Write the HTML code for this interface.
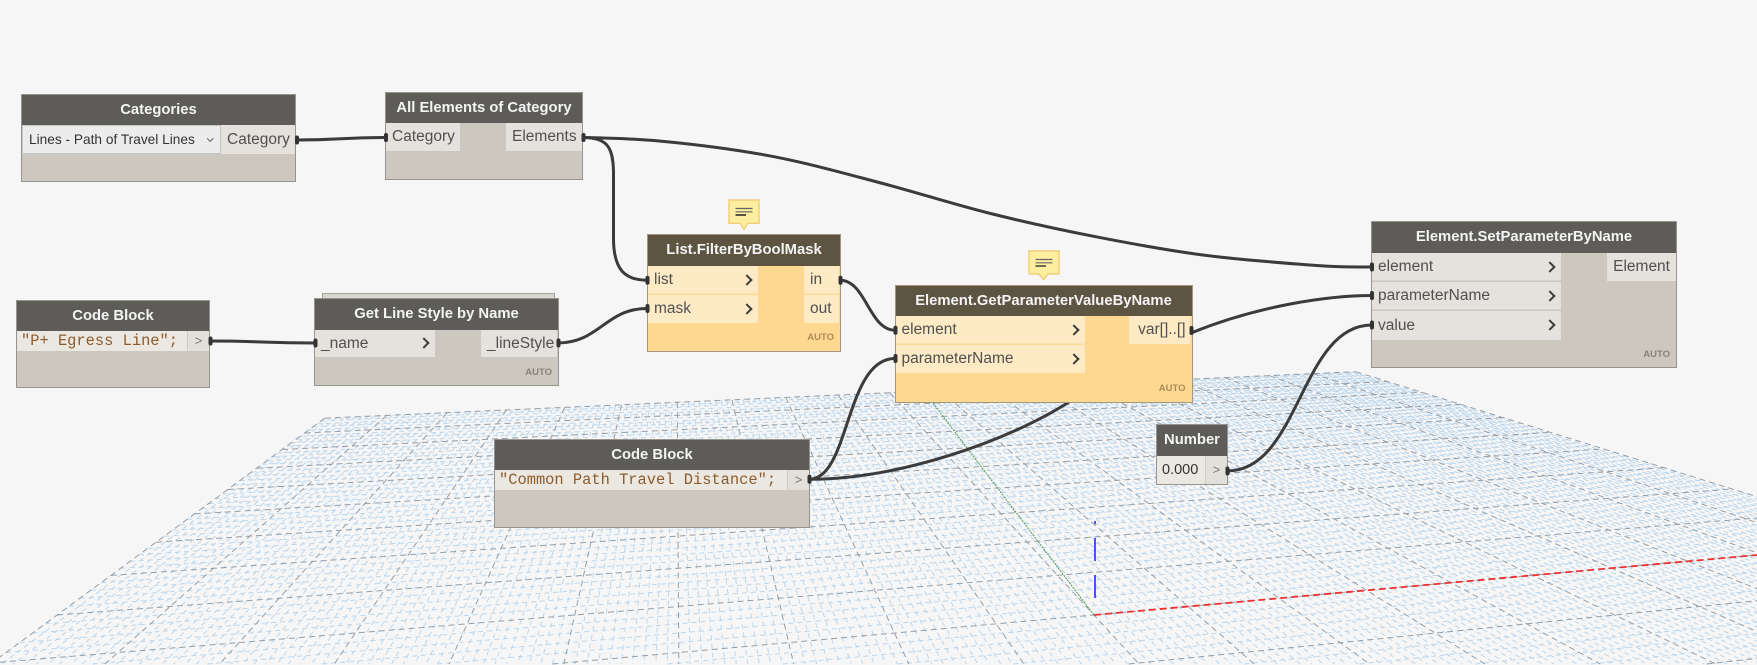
<!DOCTYPE html>
<html><head><meta charset="utf-8">
<style>
html{margin:0;padding:0;width:1757px;height:665px;overflow:hidden;}
body{margin:0;padding:0;width:1757px;height:665px;overflow:hidden;background:#f6f6f6;position:relative;font-family:"Liberation Sans",sans-serif;}
svg.full{position:absolute;left:0;top:0;overflow:hidden;}
.mn{stroke:#bcd6ec;stroke-width:1;stroke-dasharray:5 4;fill:none;}
.mj{stroke:#929ea8;stroke-width:1;stroke-dasharray:6 4;fill:none;}
.node{position:absolute;box-shadow:0 0 0 1px #97938d;}
.g{background:#ccc8c0;}
.o{background:#fdd891;box-shadow:0 0 0 1px #a5977c;}
.hdr{position:absolute;left:0;right:0;top:0;color:#f4f4f4;font-weight:bold;font-size:14.8px;text-align:center;white-space:nowrap;}
.g .hdr{background:#5e5c59;}
.o .hdr{background:#5d5442;}
.port{position:absolute;font-size:15.5px;color:#505050;padding:0 6px;box-sizing:border-box;white-space:nowrap;}
.g .port{background:#e5e2dd;}
.o .port{background:#feebc5;}
.r{text-align:right;}
.chev{position:absolute;width:6px;height:6px;border-top:2.6px solid #3c3c3c;border-right:2.6px solid #3c3c3c;transform:rotate(45deg);}
.auto{position:absolute;right:6px;font-weight:bold;font-size:9.5px;color:#85817b;}
.o .auto{color:#ad8b55;}
.code{position:absolute;background:#ebe8e2;font-family:"Liberation Mono",monospace;font-size:15.4px;color:#8d5b2c;line-height:20px;padding-left:4px;box-sizing:border-box;white-space:nowrap;overflow:hidden;}
.arr{position:absolute;background:#e3e0da;border-left:1px solid #cfcbc5;color:#777;font-size:13px;text-align:center;box-sizing:border-box;}
.dd{position:absolute;background:#ececec;border:1px solid #c6c6c6;box-sizing:border-box;font-size:13.7px;color:#333;padding-left:6px;white-space:nowrap;}
.ddc{position:absolute;width:3.5px;height:3.5px;border-right:1.3px solid #666;border-bottom:1.3px solid #666;transform:rotate(45deg);left:185px;top:10px;}
</style></head>
<body>

<!-- grid -->
<svg class="full" width="1757" height="665"><g id="gl"></g>
<line x1="1094" y1="615" x2="1757" y2="555" stroke="#f03030" stroke-width="1.8" stroke-dasharray="7 4"/>
<line x1="1094" y1="615" x2="926" y2="394" stroke="#4a9a4a" stroke-width="1" stroke-dasharray="2 1"/>
<line x1="1095" y1="521" x2="1095" y2="524" stroke="#1a1aff" stroke-width="1.5"/>
<line x1="1095" y1="538" x2="1095" y2="561" stroke="#1a1aff" stroke-width="1.5"/>
<line x1="1095" y1="575" x2="1095" y2="598" stroke="#1a1aff" stroke-width="1.5"/>
</svg>

<!-- wires -->
<svg class="full" width="1757" height="665" fill="none" stroke="#3b3b3b" stroke-width="3" stroke-linecap="round">
<path d="M296,140 C341,140 341,137.5 386,137.5"/>
<path d="M583,137.5 C608,137.5 613,148 613.5,172 L613.5,240 C614,270 625,280.2 647.5,280.2"/>
<path d="M583,137.5 C611.7,138.2 635.3,138.6 667,141.7 C698.7,144.8 738.3,149.8 774,156.7 C809.7,163.6 845.3,173.6 881,183 C916.8,192.4 952.7,204 988.5,213 C1024.3,222 1059.9,229.7 1095.6,236.7 C1131.3,243.7 1167.1,250.3 1202.8,255 C1238.5,259.7 1281.8,262.8 1310,265 C1338.2,267.2 1351.3,267 1372,267"/>
<path d="M209.7,341 C262,341 262,343 315.5,343"/>
<path d="M557,343 C600,343 605,308.5 647.5,308.5"/>
<path d="M840,280.2 C866,280.2 869,330.2 895,330.2"/>
<path d="M809,479.3 C850,479.3 845,358.5 895,358.5"/>
<path d="M809,479.3 C900,479.3 1010,440 1069,402 L1191,333 C1260,305 1330,295.5 1372,295.5"/>
<path d="M1227,471 C1300,471 1300,325 1372,325"/>
</svg>

<!-- Categories -->
<div class="node g" style="left:22px;top:95px;width:273px;height:86px">
 <div class="hdr" style="height:30px;line-height:30px">Categories</div>
 <div class="dd" style="left:0;top:30px;width:199px;height:29px;line-height:27px">Lines - Path of Travel Lines<i class="ddc"></i></div>
 <div class="port r" style="left:199px;top:30px;width:74px;height:29px;line-height:29px">Category</div>
</div>

<!-- All Elements of Category -->
<div class="node g" style="left:386px;top:92.5px;width:196px;height:86px">
 <div class="hdr" style="height:30px;line-height:30px">All Elements of Category</div>
 <div class="port" style="left:0;top:30px;width:74px;height:28px;line-height:28px">Category</div>
 <div class="port r" style="left:120px;top:30px;width:76px;height:28px;line-height:28px">Elements</div>
</div>

<!-- Code Block 1 -->
<div class="node g" style="left:17px;top:301px;width:192px;height:86px">
 <div class="hdr" style="height:30px;line-height:30px">Code Block</div>
 <div class="code" style="left:0;top:30px;width:170px;height:20px">"P+ Egress Line";</div>
 <div class="arr" style="left:170px;top:30px;width:22px;height:20px;line-height:20px">&gt;</div>
</div>

<!-- Get Line Style by Name -->
<div style="position:absolute;left:322px;top:293px;width:231px;height:10px;background:#d9d5cf;border:1px solid #a8a49e"></div>
<div class="node g" style="left:315px;top:298.5px;width:243px;height:86px">
 <div class="hdr" style="height:31px;line-height:31px">Get Line Style by Name</div>
 <div class="port" style="left:0;top:31px;width:120px;height:27px;line-height:27px">_name<i class="chev" style="right:7px;top:9px"></i></div>
 <div class="port r" style="left:166px;top:31px;width:76px;height:27px;line-height:27px">_lineStyle</div>
 <div class="auto" style="top:68px">AUTO</div>
</div>

<!-- List.FilterByBoolMask -->
<div class="node o" style="left:648px;top:235px;width:192px;height:116px">
 <div class="hdr" style="height:31px;line-height:31px">List.FilterByBoolMask</div>
 <div class="port" style="left:0;top:31px;width:110px;height:28px;line-height:28px;border-bottom:1px solid #fbe3b4">list<i class="chev" style="right:7px;top:10px"></i></div>
 <div class="port" style="left:0;top:60px;width:110px;height:28px;line-height:28px">mask<i class="chev" style="right:7px;top:10px"></i></div>
 <div class="port" style="left:156px;top:31px;width:35px;height:28px;line-height:28px;border-bottom:1px solid #fbe3b4">in</div>
 <div class="port" style="left:156px;top:60px;width:35px;height:28px;line-height:28px">out</div>
 <div class="auto" style="top:97px">AUTO</div>
</div>

<!-- Element.GetParameterValueByName -->
<div class="node o" style="left:895.5px;top:286px;width:296px;height:116px">
 <div class="hdr" style="height:30px;line-height:30px">Element.GetParameterValueByName</div>
 <div class="port" style="left:0;top:30px;width:189px;height:28px;line-height:28px;border-bottom:1px solid #fbe3b4">element<i class="chev" style="right:7px;top:10px"></i></div>
 <div class="port" style="left:0;top:59px;width:189px;height:28px;line-height:28px">parameterName<i class="chev" style="right:7px;top:10px"></i></div>
 <div class="port r" style="left:233px;top:30px;width:61px;height:28px;line-height:28px;padding-right:4px">var[]..[]</div>
 <div class="auto" style="top:97px">AUTO</div>
</div>

<!-- Code Block 2 -->
<div class="node g" style="left:495px;top:439.5px;width:314px;height:87px">
 <div class="hdr" style="height:30px;line-height:30px">Code Block</div>
 <div class="code" style="left:0;top:30px;width:292px;height:20px">"Common Path Travel Distance";</div>
 <div class="arr" style="left:292px;top:30px;width:22px;height:20px;line-height:20px">&gt;</div>
</div>

<!-- Number -->
<div class="node g" style="left:1157px;top:425px;width:70px;height:59px">
 <div class="hdr" style="height:30.5px;line-height:30.5px">Number</div>
 <div style="position:absolute;left:0;top:30.5px;width:48px;height:28.5px;line-height:28.5px;background:#ebe8e2;font-size:14.5px;color:#333;padding-left:5px;box-sizing:border-box">0.000</div>
 <div class="arr" style="left:48px;top:30.5px;width:22px;height:28.5px;line-height:28.5px">&gt;</div>
</div>

<!-- Element.SetParameterByName -->
<div class="node g" style="left:1372px;top:222px;width:304px;height:145px">
 <div class="hdr" style="height:30.5px;line-height:30.5px">Element.SetParameterByName</div>
 <div class="port" style="left:0;top:30.5px;width:189px;height:28px;line-height:28px;border-bottom:1px solid #d6d3cd">element<i class="chev" style="right:7px;top:10px"></i></div>
 <div class="port" style="left:0;top:59.5px;width:189px;height:28px;line-height:28px;border-bottom:1px solid #d6d3cd">parameterName<i class="chev" style="right:7px;top:10px"></i></div>
 <div class="port" style="left:0;top:88.5px;width:189px;height:29px;line-height:29px">value<i class="chev" style="right:7px;top:10px"></i></div>
 <div class="port r" style="left:235px;top:30.5px;width:69px;height:28px;line-height:28px">Element</div>
 <div class="auto" style="top:127px">AUTO</div>
</div>

<!-- notes -->
<svg style="position:absolute;left:728px;top:199px" width="33" height="33">
<path d="M1,1 H31 V24.3 H20 L16,30.3 L12,24.3 H1 Z" fill="#fdeea0" stroke="#efc766" stroke-width="1.2"/>
<line x1="7.5" y1="9.5" x2="24.5" y2="9.5" stroke="#666" stroke-width="1.2"/>
<line x1="7.5" y1="12.8" x2="24.5" y2="12.8" stroke="#666" stroke-width="1.2"/>
<line x1="7.5" y1="16" x2="18" y2="16" stroke="#222" stroke-width="1.5"/>
</svg>
<svg style="position:absolute;left:1028px;top:250px" width="33" height="33">
<path d="M1,1 H31 V24 H20 L15.5,29.5 L11,24 H1 Z" fill="#fdeea0" stroke="#efc766" stroke-width="1.2"/>
<line x1="7.5" y1="9.5" x2="24.5" y2="9.5" stroke="#666" stroke-width="1.2"/>
<line x1="7.5" y1="12.8" x2="24.5" y2="12.8" stroke="#666" stroke-width="1.2"/>
<line x1="7.5" y1="16" x2="18" y2="16" stroke="#333" stroke-width="1.4"/>
</svg>

<!-- port nubs -->
<svg class="full" width="1757" height="665" fill="#333">
<rect x="295" y="135.5" width="4" height="9" rx="2"/>
<rect x="384" y="133" width="4" height="9" rx="2"/>
<rect x="581.5" y="133" width="4" height="9" rx="2"/>
<rect x="208.5" y="336.5" width="4" height="9" rx="2"/>
<rect x="313.5" y="338.5" width="4" height="9" rx="2"/>
<rect x="556.5" y="338.5" width="4" height="9" rx="2"/>
<rect x="645.5" y="275.7" width="4" height="9" rx="2"/>
<rect x="645.5" y="304" width="4" height="9" rx="2"/>
<rect x="838.5" y="275.7" width="4" height="9" rx="2"/>
<rect x="893.5" y="325.7" width="4" height="9" rx="2"/>
<rect x="893.5" y="354" width="4" height="9" rx="2"/>
<rect x="1189.5" y="326" width="4" height="9" rx="2"/>
<rect x="807.5" y="474.8" width="4" height="9" rx="2"/>
<rect x="1225.5" y="466.5" width="4" height="9" rx="2"/>
<rect x="1370" y="262.5" width="4" height="9" rx="2"/>
<rect x="1370" y="291" width="4" height="9" rx="2"/>
<rect x="1370" y="320.5" width="4" height="9" rx="2"/>
</svg>

<script>
(function(){
var a='',b='',Um=0.188,Vm=0.955,Vn=-0.5,i,U,V,W=1757,H=664;
function P(U,V){var w=1+U+V;return [(1094+6201*U+676*V)/w,(615+153*U+160*V)/w];}
function clip(x0,y0,x1,y1){
 var t0=0,t1=1,dx=x1-x0,dy=y1-y0,p=[-dx,dx,-dy,dy],q=[x0,W-x0,y0,H-y0];
 for(var k=0;k<4;k++){
  if(p[k]===0){if(q[k]<0)return null;}
  else{var r=q[k]/p[k];
   if(p[k]<0){if(r>t1)return null;if(r>t0)t0=r;}
   else{if(r<t0)return null;if(r<t1)t1=r;}}
 }
 return [x0+t0*dx,y0+t0*dy,x0+t1*dx,y0+t1*dy];
}
function L(p,q,c){var r=clip(p[0],p[1],q[0],q[1]);if(!r)return '';
 return '<line x1="'+r[0].toFixed(1)+'" y1="'+r[1].toFixed(1)+'" x2="'+r[2].toFixed(1)+'" y2="'+r[3].toFixed(1)+'" class="'+c+'"/>';}
for(i=-100;i<=100;i++){U=Um*i/100;var s=L(P(U,Vm),P(U,Vn),(i%10)?'mn':'mj');if(i%10)a+=s;else b+=s;}
for(i=-50;i<=50;i++){V=Vm*i/50;if(V<Vn)continue;var t=L(P(-Um,V),P(Um,V),(i%5)?'mn':'mj');if(i%5)a+=t;else b+=t;}
document.getElementById('gl').innerHTML=a+b;
})();
</script>
</body></html>
